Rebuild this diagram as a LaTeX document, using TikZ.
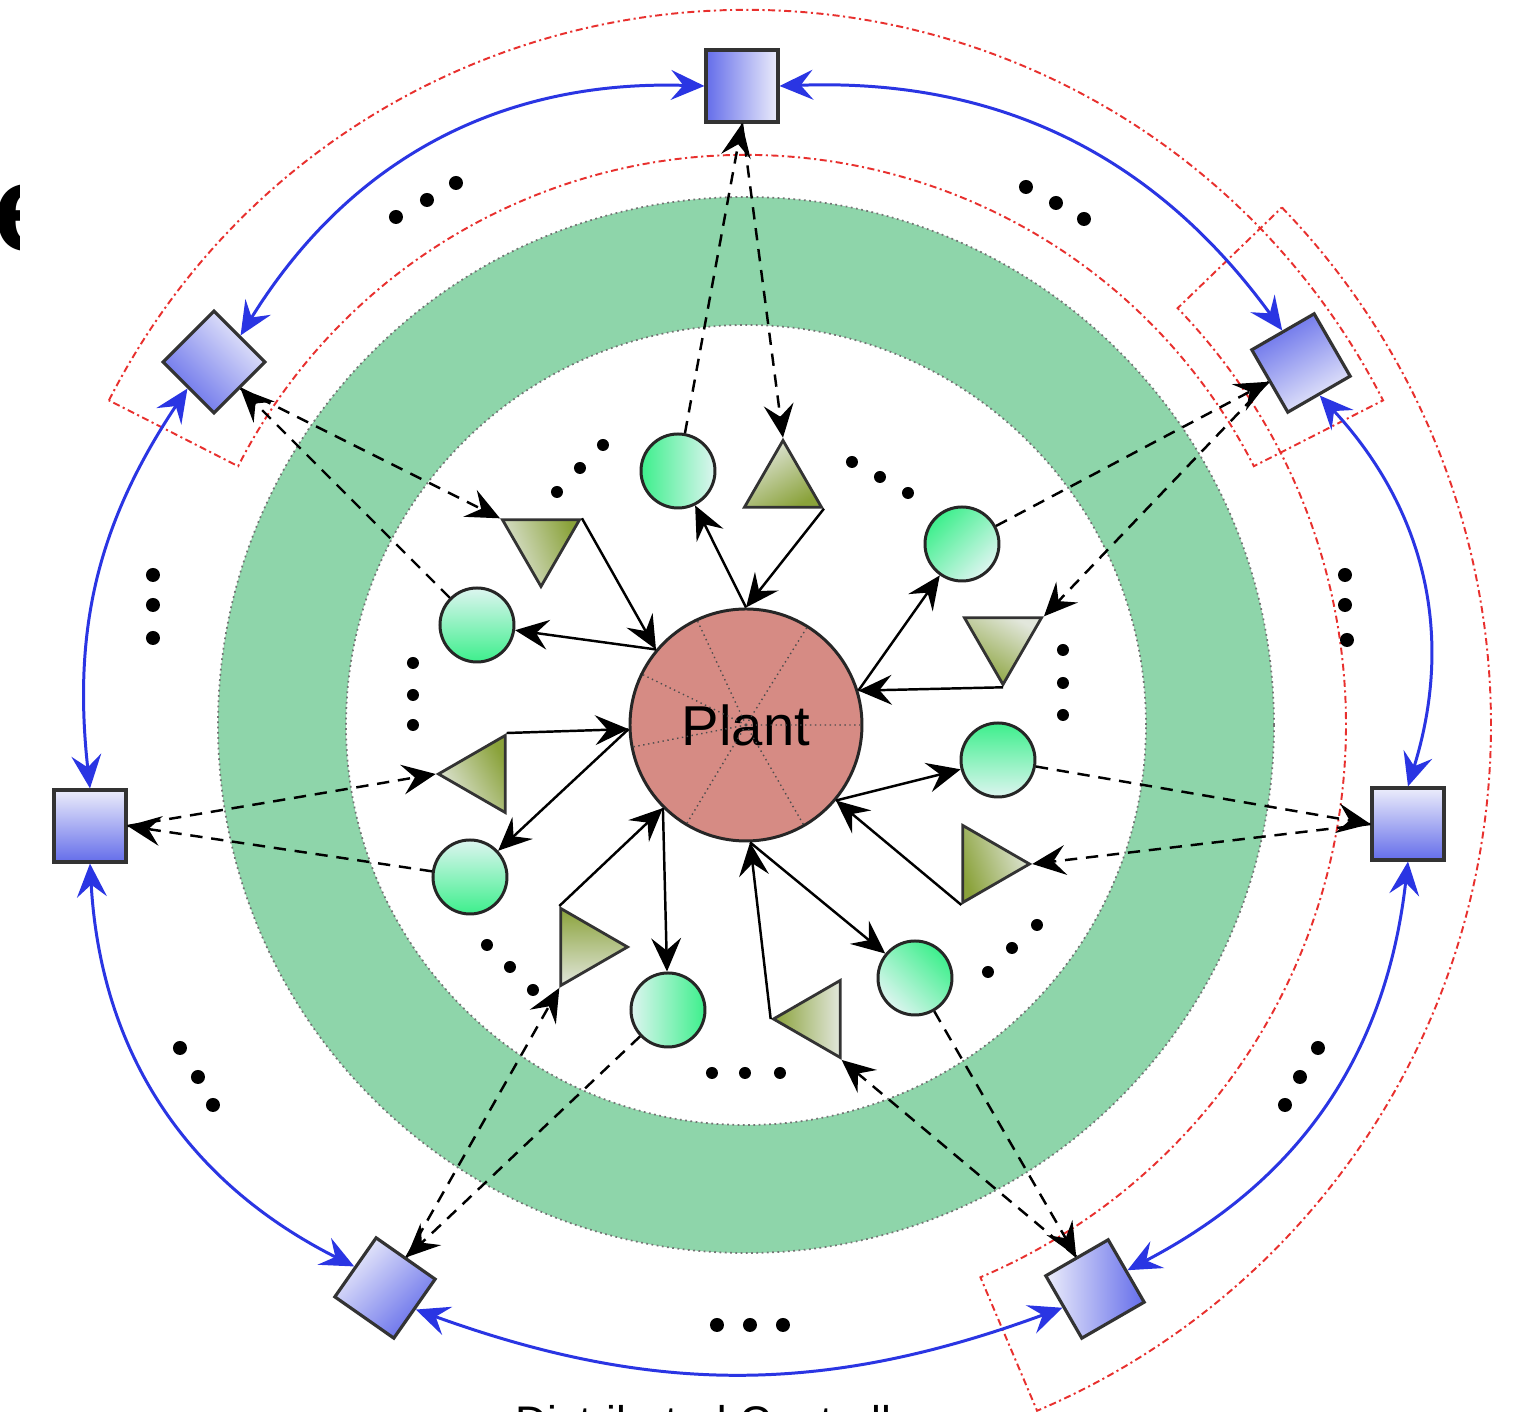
\documentclass[tikz,border=0pt]{standalone}
\usepackage{fontspec}
\setmainfont{Liberation Sans}
\usetikzlibrary{arrows.meta,shapes.geometric}
\definecolor{ringgreen}{HTML}{8ED5AA}
\definecolor{plantred}{HTML}{D68B84}
\definecolor{sensorhi}{HTML}{3DEF8C}
\definecolor{sensorlo}{HTML}{DDF5F0}
\definecolor{actdark}{HTML}{8AA23A}
\definecolor{actlight}{HTML}{E2E7DC}
\definecolor{ctrldark}{HTML}{646DEA}
\definecolor{ctrllight}{HTML}{ECEDFB}
\definecolor{linkblue}{HTML}{2A35E3}
\definecolor{groupred}{HTML}{E8302E}

\begin{document}
\begin{tikzpicture}[
  >={Stealth[length=9.5pt,width=8.5pt,inset=3.5pt]},
  sensor/.style={circle, draw=black!85, line width=0.85pt, minimum size=0.74cm, inner sep=0pt, top color=sensorhi, bottom color=sensorlo},
  actuator/.style={regular polygon, regular polygon sides=3, draw=black!80, line width=0.8pt, minimum size=0.89cm, inner sep=0pt, top color=actdark, bottom color=actlight},
  ctrl/.style={rectangle, draw=black!80, line width=0.9pt, minimum size=0.72cm, inner sep=0pt, top color=ctrllight, bottom color=ctrldark},
  flow/.style={->, line width=0.7pt},
  sig/.style={->, dash pattern=on 3.5pt off 2.5pt, line width=0.7pt},
  link/.style={<->, draw=linkblue, line width=0.85pt},
  group/.style={draw=groupred, line width=0.55pt, dash pattern=on 2pt off 1pt on 0.6pt off 1pt},
]
  \useasboundingbox (-7.46,-6.87) rectangle (7.80,7.25);
  \fill[white] (-7.46,-6.87) rectangle (7.80,7.25);

  % clipped letter at the left edge
  \begin{scope}
    \clip (-7.46,4.2) rectangle (-7.26,5.6);
    \node[anchor=base west, inner sep=0pt, font=\bfseries\fontsize{35}{40}\selectfont] (edge) at (-7.53,4.74) {e};
  \end{scope}

  % green ring
  \fill[ringgreen, even odd rule] (0,0) circle (5.28) (0,0) circle (4.0);
  \draw[black!55, densely dotted, line width=0.5pt] (0,0) circle (5.28) (0,0) circle (4.0);

  % controller groups
  \draw[group] (153:7.15) arc[start angle=153, end angle=27, radius=7.15] -- (27:5.70) arc[start angle=27, end angle=153, radius=5.70] -- cycle;
  \draw[group] (44:7.45) arc[start angle=44, end angle=-67, radius=7.45] -- (-67:6.0) arc[start angle=-67, end angle=44, radius=6.0] -- cycle;

  % plant
  \node[circle, draw=black!85, line width=0.85pt, fill=plantred, minimum size=2.32cm, inner sep=0pt, font=\fontsize{16}{18}\selectfont] (plant) at (0,0) {Plant};
  \draw[black!70, densely dotted, line width=0.4pt] (plant.center) -- (plant.58) (plant.center) -- (plant.115) (plant.center) -- (plant.154) (plant.center) -- (plant.191) (plant.center) -- (plant.0) (plant.center) -- (plant.239) (plant.center) -- (plant.300);

  % sensors
  \node[sensor, shading angle=90] (C1) at (-0.68,2.54) {};
  \node[sensor, shading angle=180] (C2) at (-2.69,1.00) {};
  \node[sensor, shading angle=45] (C3) at (2.16,1.81) {};
  \node[sensor, shading angle=0] (C4) at (2.52,-0.35) {};
  \node[sensor, shading angle=180] (C5) at (-2.76,-1.52) {};
  \node[sensor, shading angle=-90] (C6) at (-0.78,-2.85) {};
  \node[sensor, shading angle=-45] (C7) at (1.69,-2.53) {};

  % actuators
  \node[actuator, shading angle=210] (T1) at (0.37,2.40) {};
  \node[actuator, shape border rotate=180, shading angle=-70] (T2) at (-2.05,1.83) {};
  \node[actuator, shape border rotate=180, shading angle=150] (T3) at (2.57,0.85) {};
  \node[actuator, shape border rotate=90, shading angle=-60] (T4) at (-2.63,-0.49) {};
  \node[actuator, shape border rotate=-90, shading angle=0] (T5) at (-1.63,-2.22) {};
  \node[actuator, shape border rotate=-90, shading angle=110] (T6) at (2.39,-1.39) {};
  \node[actuator, shape border rotate=90, shading angle=90] (T7) at (0.72,-2.94) {};

  % controllers
  \node[ctrl, shading angle=-90] (K1) at (-0.04,6.39) {};
  \node[ctrl, rotate=45, shading angle=-45] (K2) at (-5.32,3.63) {};
  \node[ctrl, rotate=30, shading angle=210] (K3) at (5.55,3.62) {};
  \node[ctrl] (K4) at (-6.56,-1.01) {};
  \node[ctrl] (K5) at (6.62,-0.99) {};
  \node[ctrl, rotate=55, shading angle=45] (K6) at (-3.61,-5.63) {};
  \node[ctrl, rotate=30, shading angle=90] (K7) at (3.49,-5.64) {};

  % ellipsis dots, outer ring
  \fill (-3.50,5.08) circle (0.07) (-3.19,5.25) circle (0.07) (-2.90,5.42) circle (0.07);
  \fill (2.80,5.38) circle (0.07) (3.10,5.22) circle (0.07) (3.38,5.06) circle (0.07);
  \fill (-5.93,1.50) circle (0.07) (-5.93,1.20) circle (0.07) (-5.93,0.87) circle (0.07);
  \fill (5.99,1.50) circle (0.07) (5.99,1.20) circle (0.07) (6.01,0.85) circle (0.07);
  \fill (-5.66,-3.23) circle (0.07) (-5.48,-3.52) circle (0.07) (-5.33,-3.80) circle (0.07);
  \fill (-0.29,-6.00) circle (0.07) (0.04,-6.00) circle (0.07) (0.37,-6.00) circle (0.07);
  \fill (5.72,-3.23) circle (0.07) (5.54,-3.52) circle (0.07) (5.39,-3.80) circle (0.07);

  % ellipsis dots, inner area
  \fill (-1.89,2.33) circle (0.06) (-1.66,2.57) circle (0.06) (-1.43,2.80) circle (0.06);
  \fill (1.06,2.63) circle (0.06) (1.34,2.48) circle (0.06) (1.62,2.32) circle (0.06);
  \fill (-3.33,0.62) circle (0.06) (-3.33,0.30) circle (0.06) (-3.33,0.00) circle (0.06);
  \fill (3.17,0.75) circle (0.06) (3.17,0.42) circle (0.06) (3.17,0.10) circle (0.06);
  \fill (-2.59,-2.20) circle (0.06) (-2.36,-2.42) circle (0.06) (-2.13,-2.65) circle (0.06);
  \fill (2.42,-2.47) circle (0.06) (2.66,-2.23) circle (0.06) (2.91,-2.00) circle (0.06);
  \fill (-0.34,-3.48) circle (0.06) (-0.01,-3.48) circle (0.06) (0.34,-3.48) circle (0.06);

  % plant outputs to sensors, actuators into plant
  \draw[flow] (plant.90) -- (C1);
  \draw[flow] (T1.330) -- (plant.90);
  \draw[flow] (plant.140) -- (C2);
  \draw[flow] (T2.30) -- (plant.140);
  \draw[flow] (plant.17) -- (C3);
  \draw[flow] (T3.270) -- (plant.17);
  \draw[flow] (plant.320) -- (C4);
  \draw[flow] (T6.240) -- (plant.320);
  \draw[flow] (plant.272) -- (C7);
  \draw[flow] (T7.180) -- (plant.272);
  \draw[flow] (plant.225) -- (C6);
  \draw[flow] (T5.120) -- (plant.225);
  \draw[flow] (plant.182) -- (C5);
  \draw[flow] (T4.60) -- (plant.182);

  % sensors to controllers, controllers to actuators
  \draw[sig] (C1) -- (K1.south);
  \draw[sig] (K1.south) -- (T1.90);
  \draw[sig] (C2) -- (K2.south);
  \draw[sig] (K2.south) -- (T2.150);
  \draw[sig] (C3) -- (K3.west);
  \draw[sig] (K3.west) -- (T3.30);
  \draw[sig] (C5) -- (K4.east);
  \draw[sig] (K4.east) -- (T4.180);
  \draw[sig] (C4) -- (K5.west);
  \draw[sig] (K5.west) -- (T6.0);
  \draw[sig] (C6) -- (K6.east);
  \draw[sig] (K6.east) -- (T5.240);
  \draw[sig] (C7) -- (K7.north);
  \draw[sig] (K7.north) -- (T7.300);

  % links between neighbouring controllers
  \draw[link] (K1.west) to[bend right=30] (K2.east);
  \draw[link] (K2.west) to[bend right=20] (K4.north);
  \draw[link] (K4.south) to[bend right=30] (K6.north);
  \draw[link] (K6.south) to[bend right=20] (K7.west);
  \draw[link] (K7.east) to[bend right=28] (K5.south);
  \draw[link] (K5.north) to[bend right=30] (K3.south);
  \draw[link] (K3.north) to[bend right=28] (K1.east);

  % caption, cut by the lower edge
  \node[anchor=base west, inner sep=0pt, font=\fontsize{12.6}{15}\selectfont] (caption) at (-2.315,-7.125) {Distributed Controllers};
\end{tikzpicture}
\end{document}
